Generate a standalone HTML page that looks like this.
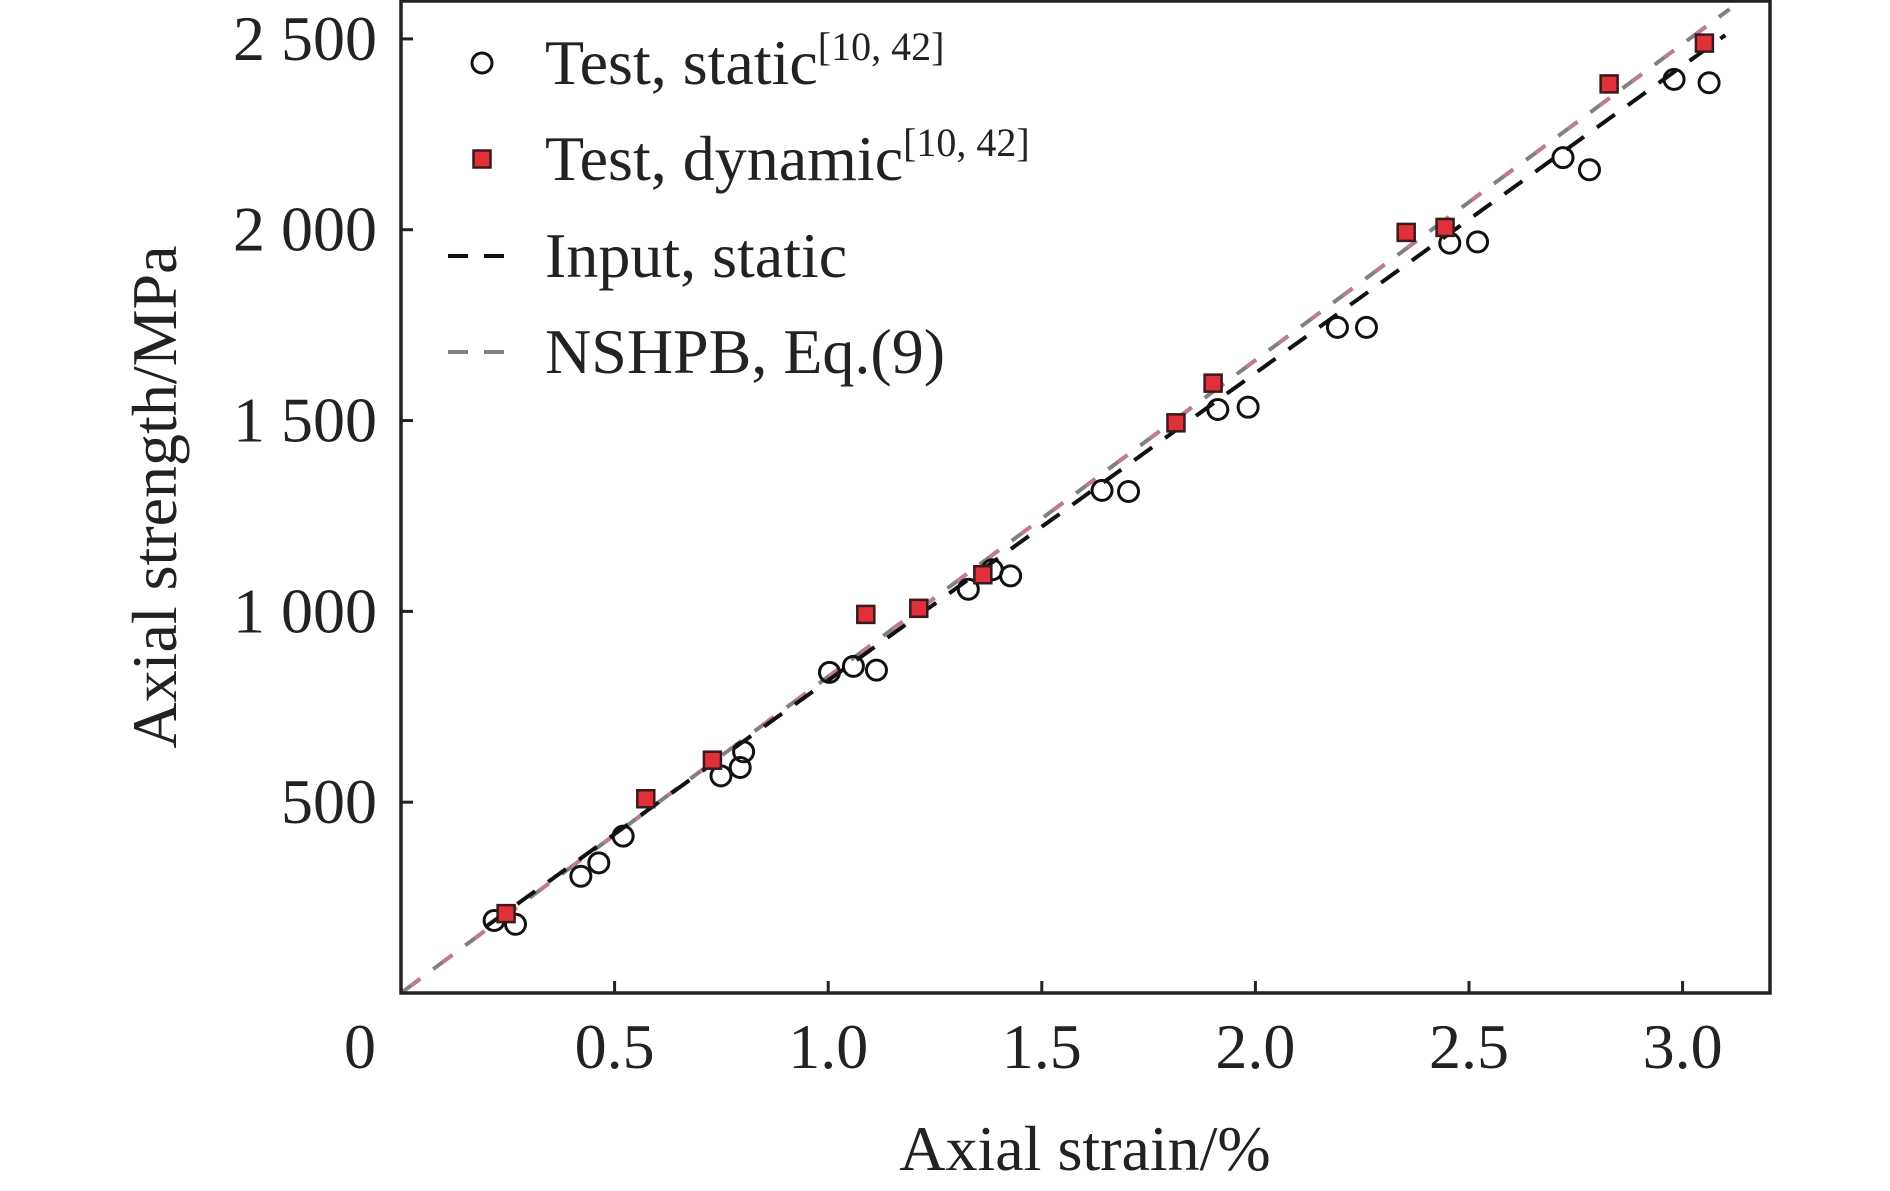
<!DOCTYPE html>
<html><head><meta charset="utf-8"><style>
html,body{margin:0;padding:0;background:#fff;}
svg{display:block;font-family:"Liberation Serif",serif;}
</style></head><body>
<svg id="chart" width="1890" height="1191" viewBox="0 0 1890 1191" xmlns="http://www.w3.org/2000/svg">
<rect width="1890" height="1191" fill="#fff"/>
<g id="plot"></g>
<g id="axes"></g>
<g id="legend"></g>
</svg>
<script>
const staticX = [0.218,0.268,0.421,0.463,0.520,0.749,0.794,0.802,1.003,1.059,1.113,1.328,1.384,1.427,1.641,1.703,1.912,1.983,2.192,2.260,2.455,2.520,2.720,2.782,2.980,3.062];
const staticY = [190,180,306,341,411,569,591,632,840,856,846,1058,1109,1093,1317,1314,1529,1535,1744,1744,1965,1968,2189,2157,2394,2385];
const dynX = [0.246,0.573,0.729,1.088,1.212,1.362,1.814,1.901,2.353,2.444,2.828,3.051];
const dynY = [208,509,610,992,1008,1096,1494,1598,1993,2006,2382,2489];
const inputX = [0.20,3.10];
const inputY = [175,2510];
const nshpbX = [0.0,3.11];
const nshpbY = [0,2578];
const xTicks = [0,0.5,1.0,1.5,2.0,2.5,3.0];
const xTickLabels = ["0","0.5","1.0","1.5","2.0","2.5","3.0"];
const yTicks = [500,1000,1500,2000,2500];
const yTickLabels = ["500","1 000","1 500","2 000","2 500"];

const NS="http://www.w3.org/2000/svg";
const L=401,R=1770,T=1,B=993;
const sx=v=>401+v*427.2;
const sy=v=>993-v*0.38164;
function mk(tag,attrs,parent){const e=document.createElementNS(NS,tag);for(const k in attrs)e.setAttribute(k,attrs[k]);parent.appendChild(e);return e;}
const plot=document.getElementById('plot'),axes=document.getElementById('axes'),legend=document.getElementById('legend');

let l2=mk('line',{x1:sx(nshpbX[0]),y1:sy(nshpbY[0]),x2:sx(nshpbX[1]),y2:sy(nshpbY[1]),stroke:'#808080','stroke-width':4,'stroke-dasharray':'24 16'},plot);


let l1=mk('line',{x1:sx(nshpbX[0]),y1:sy(nshpbY[0]),x2:sx(nshpbX[1]),y2:sy(nshpbY[1]),stroke:'#c07a98','stroke-width':4,'stroke-dasharray':'12 28','stroke-dashoffset':'-12'},plot);


let l3=mk('line',{x1:sx(inputX[0]),y1:sy(inputY[0]),x2:sx(inputX[1]),y2:sy(inputY[1]),stroke:'#111','stroke-width':4,'stroke-dasharray':'22 16'},plot);



staticX.forEach((x,i)=>{const c=mk('circle',{cx:sx(x),cy:sy(staticY[i]),r:10,fill:'none',stroke:'#111','stroke-width':3},plot);

});
dynX.forEach((x,i)=>{const r=mk('rect',{x:sx(x)-8.5,y:sy(dynY[i])-8.5,width:17,height:17,fill:'#e0303a',stroke:'#3a1a1a','stroke-width':2.5},plot);

});

const fr=mk('rect',{x:L,y:T,width:R-L,height:B-T,fill:'none',stroke:'#222','stroke-width':3.5},axes);


xTicks.forEach((v,i)=>{if(i>0){const t=mk('line',{x1:sx(v),y1:B,x2:sx(v),y2:B-12,stroke:'#222','stroke-width':3},axes);

}
const tx=mk('text',{x:i==0?360:sx(v),y:1068,'font-size':64,'text-anchor':'middle',fill:'#222'},axes);tx.textContent=xTickLabels[i];

});
yTicks.forEach((v,i)=>{const t=mk('line',{x1:L,y1:sy(v),x2:L+12,y2:sy(v),stroke:'#222','stroke-width':3},axes);


const tx=mk('text',{x:377,y:sy(v)+21,'font-size':64,'text-anchor':'end',fill:'#222'},axes);tx.textContent=yTickLabels[i];

});
const xt=mk('text',{x:1085,y:1170,'font-size':64,'text-anchor':'middle',fill:'#222'},axes);xt.textContent='Axial strain/%';


const yt=mk('text',{x:0,y:0,'font-size':64,'text-anchor':'middle',fill:'#222',transform:'translate(176,497) rotate(-90)'},axes);yt.textContent='Axial strength/MPa';



const ly=[63,159,256,352];
let c=mk('circle',{cx:482,cy:ly[0],r:10,fill:'none',stroke:'#111','stroke-width':3},legend);


let s=mk('rect',{x:473.5,y:ly[1]-8.5,width:17,height:17,fill:'#e0303a',stroke:'#3a1a1a','stroke-width':2.5},legend);


let a=mk('line',{x1:448,y1:ly[2],x2:516,y2:ly[2],stroke:'#111','stroke-width':4,'stroke-dasharray':'20 16'},legend);


let b=mk('line',{x1:448,y1:ly[3],x2:516,y2:ly[3],stroke:'#808080','stroke-width':4,'stroke-dasharray':'20 16'},legend);


const labs=['Test, static<tspan font-size="40" dy="-24">[10, 42]</tspan>','Test, dynamic<tspan font-size="40" dy="-24">[10, 42]</tspan>','Input, static','NSHPB, Eq.(9)'];
labs.forEach((h,i)=>{const t=mk('text',{x:545,y:ly[i]+21,'font-size':64,fill:'#222'},legend);t.innerHTML=h;

});
</script>
</body></html>
